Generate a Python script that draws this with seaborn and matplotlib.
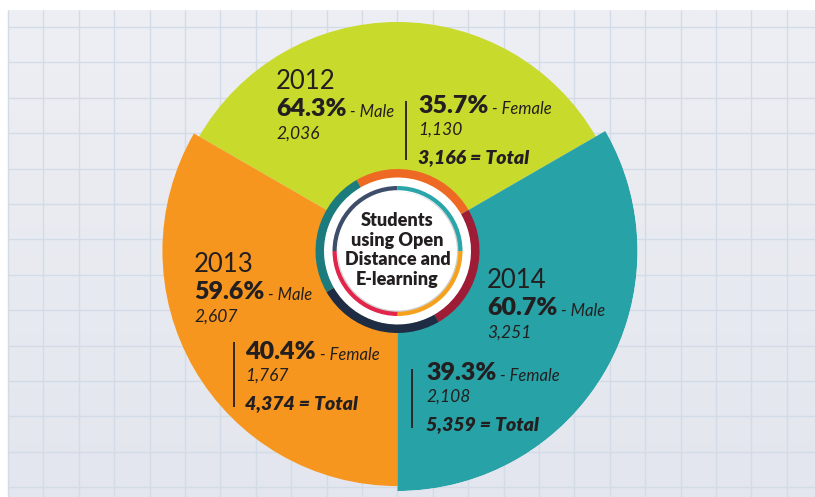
import numpy as np
import matplotlib
matplotlib.use("Agg")
import matplotlib.pyplot as plt
from matplotlib.colors import LinearSegmentedColormap
from matplotlib.patches import Circle, Wedge
import seaborn as sns

# ---- data -------------------------------------------------------------
years = ["2012", "2013", "2014"]
male_pct = [64.3, 59.6, 60.7]
female_pct = [35.7, 40.4, 39.3]
male_count = [2036, 2607, 3251]
female_count = [1130, 1767, 2108]
totals = [3166, 4374, 5359]
center_title = "Students\nusing Open\nDistance and\nE-learning"

# ---- style ------------------------------------------------------------
sns.set_theme(style="white")
plt.rcParams["font.family"] = ["Lato", "DejaVu Sans"]

sector_colors = ["#C8DA2B", "#F7961F", "#27A2A6"]
ink = "#231F20"
RADIAL_BASE = -42500          # radial offset so sectors differ gently in size

W, H = 815, 497
fig = plt.figure(figsize=(W / 100, H / 100), dpi=100)
fig.patch.set_facecolor("white")

# ---- graph-paper background ------------------------------------------
bg = fig.add_axes([0, 0, 1, 1], zorder=0)
bg.set_xlim(0, W)
bg.set_ylim(H, 0)
bg.axis("off")
grad = np.linspace(0, 1, 256)[:, None]
bg_cmap = LinearSegmentedColormap.from_list("paper", ["#EEEFF4", "#E3E6EE"])
bg.imshow(grad, extent=[8, W, H, 10], cmap=bg_cmap, aspect="auto", zorder=0)
step = 35.4
bg.vlines(np.arange(8, W, step), 10, H, color="#D3DBE6", lw=1.0, zorder=1)
bg.hlines(np.arange(27, H, step), 8, W, color="#D3DBE6", lw=1.0, zorder=1)

# ---- sectors (polar bars) --------------------------------------------
cx, cy, R = 397.5, 251, 240
pax = fig.add_axes([(cx - R) / W, (H - cy - R) / H, 2 * R / W, 2 * R / H],
                   projection="polar", zorder=1)
pax.set_facecolor("none")
pax.set_ylim(RADIAL_BASE, max(totals))
theta = np.deg2rad([90 + 120 * i for i in range(len(years))])
pax.bar(theta, np.array(totals) - RADIAL_BASE, width=np.deg2rad(120),
        bottom=RADIAL_BASE, color=sector_colors, edgecolor="none", linewidth=0)
pax.set_axis_off()

# ---- overlay in pixel coordinates ------------------------------------
ov = fig.add_axes([0, 0, 1, 1], zorder=2)
ov.set_xlim(0, W)
ov.set_ylim(H, 0)
ov.axis("off")
ov.patch.set_alpha(0)


def arc(r_out, width, a0, a1, color):
    # y axis is inverted here, so screen angles are mirrored
    ov.add_patch(Wedge((cx, cy), r_out, -a1, -a0, width=width,
                       facecolor=color, edgecolor="none"))


ov.add_patch(Circle((cx, cy), 74, facecolor="white", edgecolor="none"))
for a0, a1, c in [(30, 120, "#EE6A24"), (-60, 30, "#9E1C36"),
                  (210, 300, "#1F2D44"), (120, 210, "#1B7B7D")]:
    arc(82, 8.5, a0, a1, c)
ov.add_patch(Circle((cx + 1.2, cy + 1.8), 61, facecolor="#CFCFCF", edgecolor="none"))
ov.add_patch(Circle((cx, cy), 59.5, facecolor="white", edgecolor="none"))
for a0, a1, c in [(90, 180, "#3D4D6A"), (0, 90, "#2AA5A9"),
                  (-90, 0, "#F5A11C"), (180, 270, "#E2254A")]:
    arc(65, 4.2, a0, a1, c)

ov.text(cx, cy - 1, center_title, ha="center", va="center", fontsize=13,
        fontweight="heavy", color=ink, linespacing=1.2, multialignment="center")

# ---- per-year labels --------------------------------------------------
layout = [
    dict(x=276, y=89, fx=418, fy=113, lx=406, l0=101, l1=160),
    dict(x=194, y=272, fx=245, fy=359, lx=234, l0=342, l1=407),
    dict(x=487, y=288, fx=426, fy=380, lx=412, l0=369, l1=428),
]

for i, L in enumerate(layout):
    x, y = L["x"], L["y"]
    ov.text(x, y, years[i], fontsize=18.5, fontweight="normal", color=ink,
            va="baseline", ha="left")
    t = ov.text(x, y + 27, f"{male_pct[i]:.1f}%", fontsize=18, fontweight="heavy",
                color=ink, va="baseline", ha="left")
    ov.annotate(" - Male", xy=(1, 0), xycoords=t, va="bottom", ha="left",
                fontsize=12, fontstyle="italic", color=ink)
    ov.text(x, y + 50, f"{male_count[i]:,}", fontsize=12.5, fontstyle="italic",
            fontweight="normal", color=ink, va="baseline", ha="left")

    fx, fy = L["fx"], L["fy"]
    t2 = ov.text(fx, fy, f"{female_pct[i]:.1f}%", fontsize=18, fontweight="heavy",
                 color=ink, va="baseline", ha="left")
    ov.annotate(" - Female", xy=(1, 0), xycoords=t2, va="bottom", ha="left",
                fontsize=12, fontstyle="italic", color=ink)
    ov.text(fx, fy + 22, f"{female_count[i]:,}", fontsize=12.5, fontstyle="italic",
            fontweight="normal", color=ink, va="baseline", ha="left")
    ov.text(fx, fy + 50, f"{totals[i]:,} = Total", fontsize=14, fontstyle="italic",
            fontweight="heavy", color=ink, va="baseline", ha="left")
    ov.plot([L["lx"], L["lx"]], [L["l0"], L["l1"]], color=ink, lw=1.3,
            solid_capstyle="butt")

fig.savefig("out.png", dpi=100, facecolor=fig.get_facecolor())
